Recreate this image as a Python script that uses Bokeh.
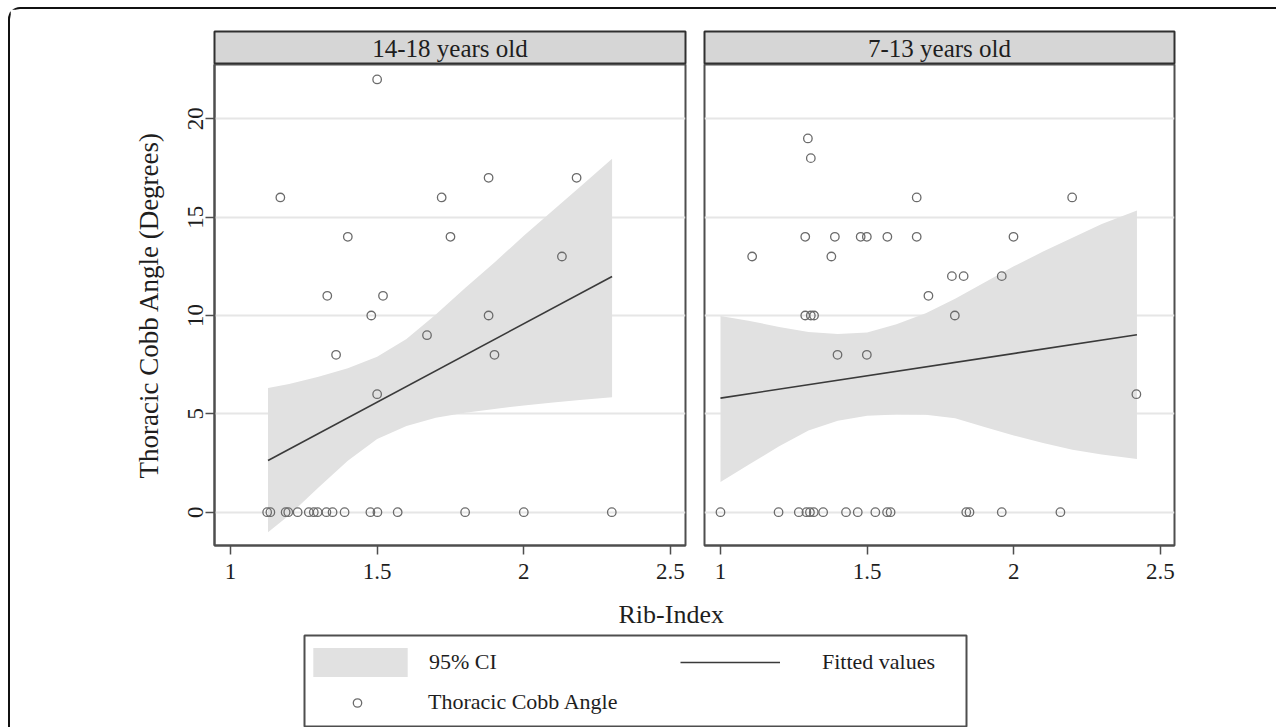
from bokeh.plotting import figure
from bokeh.models import (FixedTicker, Range1d, Label, Legend, LegendItem, Spacer)
from bokeh.layouts import column, row
from bokeh.embed import file_html
from bokeh.resources import INLINE

FONT = "Liberation Serif"

# ---------------- data ----------------
panel_titles = ["14-18 years old", "7-13 years old"]

# 14-18 years old
older_rib = [1.50, 1.17, 1.88, 2.18, 1.72, 1.40, 1.75, 2.13, 1.33, 1.52, 1.48, 1.88,
             1.67, 1.36, 1.90, 1.50,
             1.125, 1.136, 1.188, 1.197, 1.229, 1.267, 1.284, 1.297, 1.327, 1.348,
             1.389, 1.477, 1.501, 1.570, 1.800, 2.000, 2.300]
older_cobb = [22, 16, 17, 17, 16, 14, 14, 13, 11, 11, 10, 10, 9, 8, 8, 6,
              0, 0, 0, 0, 0, 0, 0, 0, 0, 0, 0, 0, 0, 0, 0, 0, 0]
older_fit_x = [1.128, 2.301]
older_fit_y = [2.63, 11.98]
older_ci_x = [1.128, 1.20, 1.30, 1.40, 1.50, 1.60, 1.70, 1.80, 1.90, 2.00, 2.10, 2.20, 2.301]
older_ci_lo = [-1.02, -0.15, 1.25, 2.62, 3.72, 4.38, 4.80, 5.06, 5.25, 5.43, 5.58, 5.72, 5.85]
older_ci_hi = [6.32, 6.52, 6.88, 7.32, 7.90, 8.80, 10.05, 11.40, 12.70, 14.05, 15.35, 16.65, 17.97]

# 7-13 years old
younger_rib = [1.298, 1.308, 1.669, 2.199, 1.289, 1.390, 1.478, 1.499, 1.569, 1.669,
               1.999, 1.108, 1.378, 1.789, 1.829, 1.959, 1.709, 1.289, 1.308, 1.319,
               1.799, 1.399, 1.499, 2.418,
               1.000, 1.198, 1.267, 1.293, 1.305, 1.318, 1.350, 1.428, 1.468, 1.528,
               1.568, 1.580, 1.838, 1.849, 1.959, 2.159]
younger_cobb = [19, 18, 16, 16, 14, 14, 14, 14, 14, 14, 14, 13, 13, 12, 12, 12, 11,
                10, 10, 10, 10, 8, 8, 6,
                0, 0, 0, 0, 0, 0, 0, 0, 0, 0, 0, 0, 0, 0, 0, 0]
younger_fit_x = [1.0, 2.42]
younger_fit_y = [5.80, 9.02]
younger_ci_x = [1.0, 1.1, 1.2, 1.3, 1.4, 1.5, 1.6, 1.7, 1.8, 1.9, 2.0, 2.1, 2.2, 2.3, 2.42]
younger_ci_lo = [1.53, 2.45, 3.35, 4.15, 4.65, 4.90, 4.97, 4.96, 4.78, 4.33, 3.90, 3.52,
                 3.18, 2.93, 2.71]
younger_ci_hi = [9.97, 9.72, 9.42, 9.16, 9.06, 9.14, 9.56, 10.12, 10.85, 11.68, 12.50,
                 13.25, 13.95, 14.65, 15.34]

x_ticks = [1, 1.5, 2, 2.5]
x_tick_labels = ["1", "1.5", "2", "2.5"]
y_ticks = [0, 5, 10, 15, 20]

x_title = "Rib-Index"
y_title = "Thoracic Cobb Angle (Degrees)"
legend_labels = ["95% CI", "Fitted values", "Thoracic Cobb Angle"]

# ---------------- style ----------------
CI_FILL = "#e1e1e1"
STRIP_FILL = "#d6d6d6"
GRID = "#e6e6e6"
PT = "#6b6b6b"
FIT = "#3a3a3a"
FRAME = "#4e4e4e"
STRIP_LINE = "#303030"
TEXT = "#1e1e1e"

X_START = 0.9455
Y_START = -1.693
Y_END = 22.76


def make_strip(title_text, xr, width, mbl, mbr):
    s = figure(width=width, height=55, x_range=xr, y_range=Range1d(0, 1),
               output_backend="svg", toolbar_location=None, title=None,
               x_axis_location=None, y_axis_location=None,
               min_border_left=mbl, min_border_right=mbr,
               min_border_top=22, min_border_bottom=0)
    s.xgrid.visible = False
    s.ygrid.visible = False
    s.background_fill_color = STRIP_FILL
    s.border_fill_color = "white"
    s.outline_line_color = STRIP_LINE
    s.outline_line_width = 2
    s.add_layout(Label(x=(xr.start + xr.end) / 2, y=0.5, text=title_text,
                       text_align="center", text_baseline="middle",
                       text_font=FONT, text_font_size="25px", text_color=TEXT))
    return s


def make_panel(rib, cobb, fit_x, fit_y, ci_x, ci_lo, ci_hi, xr, show_y, width, mbl, mbr):
    p = figure(width=width, height=526, x_range=xr,
               y_range=Range1d(Y_START, Y_END), output_backend="svg",
               toolbar_location=None, title=None,
               y_axis_location="left" if show_y else None,
               min_border_left=mbl, min_border_right=mbr,
               min_border_top=0, min_border_bottom=45)
    p.background_fill_color = "white"
    p.border_fill_color = "white"
    p.outline_line_color = FRAME
    p.outline_line_width = 2
    p.xgrid.visible = False
    p.ygrid.ticker = FixedTicker(ticks=y_ticks)
    p.ygrid.grid_line_color = GRID
    p.ygrid.grid_line_width = 2

    ax = p.xaxis[0]
    ax.ticker = FixedTicker(ticks=x_ticks)
    ax.major_label_overrides = {t: l for t, l in zip(x_ticks, x_tick_labels)}
    ax.major_label_text_font = FONT
    ax.major_label_text_font_size = "23px"
    ax.major_label_text_color = TEXT
    ax.major_label_standoff = 9
    ax.major_tick_out = 9
    ax.major_tick_in = 0
    ax.major_tick_line_color = FRAME
    ax.major_tick_line_width = 1.5
    ax.minor_tick_line_color = None
    ax.axis_line_color = FRAME
    ax.axis_line_width = 2

    if show_y:
        ay = p.yaxis[0]
        ay.ticker = FixedTicker(ticks=y_ticks)
        ay.major_label_orientation = "vertical"
        ay.major_label_text_font = FONT
        ay.major_label_text_font_size = "23px"
        ay.major_label_text_color = TEXT
        ay.major_label_standoff = 2
        ay.major_tick_out = 9
        ay.major_tick_in = 0
        ay.major_tick_line_color = FRAME
        ay.major_tick_line_width = 1.5
        ay.minor_tick_line_color = None
        ay.axis_line_color = FRAME
        ay.axis_line_width = 2
        ay.axis_label = y_title
        ay.axis_label_text_font = FONT
        ay.axis_label_text_font_size = "27px"
        ay.axis_label_text_font_style = "normal"
        ay.axis_label_text_color = TEXT
        ay.axis_label_standoff = 22

    p.varea(x=ci_x, y1=ci_lo, y2=ci_hi, fill_color=CI_FILL, fill_alpha=1.0)
    p.line(fit_x, fit_y, line_color=FIT, line_width=1.6)
    p.scatter(rib, cobb, marker="circle", size=8.5, fill_color=None,
              line_color=PT, line_width=1.3)
    return p


xrL = Range1d(X_START, 2.5513)
xrR = Range1d(X_START, 2.548)

sL = make_strip(panel_titles[0], xrL, 684, 204, 9)
sR = make_strip(panel_titles[1], xrR, 582, 10, 102)
pL = make_panel(older_rib, older_cobb, older_fit_x, older_fit_y,
                older_ci_x, older_ci_lo, older_ci_hi, xrL, True, 684, 204, 9)
pR = make_panel(younger_rib, younger_cobb, younger_fit_x, younger_fit_y,
                younger_ci_x, younger_ci_lo, younger_ci_hi, xrR, False, 582, 10, 102)

# ---------------- bottom: x title + legend box ----------------
b = figure(width=1266, height=137, x_range=Range1d(0, 1), y_range=Range1d(0, 1),
           output_backend="svg", toolbar_location=None,
           x_axis_location=None, y_axis_location=None, title=x_title,
           min_border_left=294, min_border_right=310, min_border_top=45,
           min_border_bottom=1)
b.xgrid.visible = False
b.ygrid.visible = False
b.background_fill_color = "white"
b.border_fill_color = "white"
b.outline_line_color = FRAME
b.outline_line_width = 2
b.title.align = "left"
b.title.offset = 314
b.title.standoff = 14
b.title.text_font = FONT
b.title.text_font_size = "26px"
b.title.text_font_style = "normal"
b.title.text_color = TEXT

# legend proxies (their data lies outside this frame's ranges; only the keys show)
r_ci = b.varea(x=older_ci_x, y1=older_ci_lo, y2=older_ci_hi, fill_color=CI_FILL, fill_alpha=1.0)
r_fit = b.line(older_fit_x, older_fit_y, line_color=FIT, line_width=1.6)
r_pt = b.scatter(older_rib, older_cobb, marker="circle", size=8.5, fill_color=None,
                 line_color=PT, line_width=1.3)


def add_legend(renderer, label, gw, gh, loc, standoff):
    leg = Legend(items=[LegendItem(label=label, renderers=[renderer])],
                 location=loc, orientation="vertical", glyph_width=gw, glyph_height=gh,
                 label_standoff=standoff, padding=0, margin=0, spacing=0,
                 border_line_color=None, background_fill_alpha=0,
                 label_text_font=FONT, label_text_font_size="22px",
                 label_text_color=TEXT)
    b.add_layout(leg, "center")


add_legend(r_ci, legend_labels[0], 118, 36, (-3, 46), 10)
add_legend(r_fit, legend_labels[1], 100, 36, (376, 46), 42)
add_legend(r_pt, legend_labels[2], 118, 21, (-6, 11), 12)

inner = column(row(sL, sR), row(pL, pR), b,
               styles={"border-top": "2px solid #111111",
                       "border-left": "2px solid #111111",
                       "border-top-left-radius": "12px"})
layout = column(Spacer(width=10, height=7), row(Spacer(width=8, height=10), inner))

open("out.html", "w").write(file_html(layout, INLINE))
